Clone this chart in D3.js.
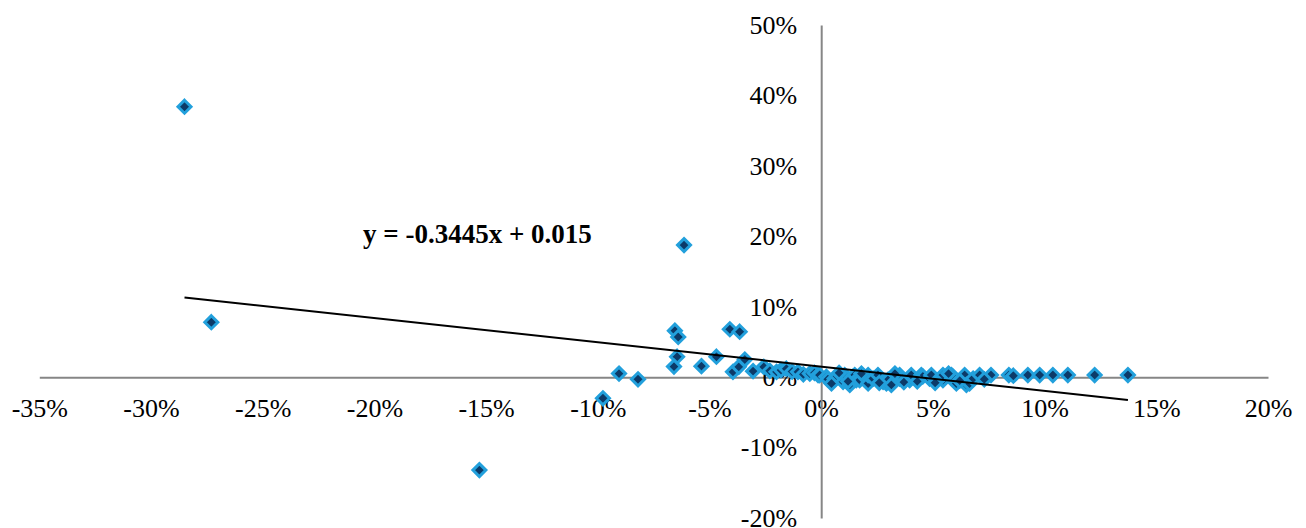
<!DOCTYPE html>
<html>
<head>
<meta charset="utf-8">
<script src="https://cdn.jsdelivr.net/npm/d3@7"></script>
<style>
  body { margin: 0; background: #fff; }
  svg { display: block; }
  .axis text { font-family: "Times New Roman", "Liberation Serif", serif; font-size: 26px; fill: #000; }
  .axis path { stroke: #868686; stroke-width: 2; }
</style>
</head>
<body>
<svg id="chart"></svg>
<script>
// returns (x) vs following returns (y)
var xValues = [
  -0.285, -0.273, -0.153, -0.0977, -0.0905, -0.082,
  -0.0614, -0.0655, -0.064, -0.0645, -0.0659, -0.0536, -0.0469,
  -0.0409, -0.0365, -0.0395, -0.0369, -0.0342, -0.0305, -0.0257,
  -0.023, -0.020, -0.018, -0.0156, -0.013, -0.0104, -0.008, -0.0051, -0.003, -0.0014,
  -0.0007, 0.0023, 0.003, 0.006, 0.0046, 0.0098, 0.0105, 0.0128, 0.0142, 0.015, 0.0157,
  0.0172, 0.021, 0.021, 0.0232, 0.0254, 0.0277, 0.0292, 0.0299, 0.0314,
  0.0351, 0.0351, 0.0396, 0.0403, 0.0448, 0.0455, 0.0485, 0.0493,
  0.0545, 0.0545, 0.0583, 0.059, 0.0605, 0.0642, 0.065, 0.0664, 0.068, 0.0709,
  0.076, 0.084, 0.0925, 0.0978, 0.1037, 0.1104, 0.1224, 0.1373,
  0.008, 0.012, 0.018, 0.026, 0.033, 0.037, 0.043, 0.051, 0.057, 0.062, 0.073, 0.086
];
var yValues = [
  0.384, 0.078, -0.132, -0.030, 0.005, -0.003,
  0.1875, 0.066, 0.057, 0.029, 0.015, 0.0156, 0.029,
  0.068, 0.0645, 0.0075, 0.0146, 0.025, 0.0085, 0.0146,
  0.009, 0.0075, 0.010, 0.012, 0.008, 0.0075, 0.004, 0.005, 0.006, 0.003,
  0.003, 0.0004, -0.003, -0.002, -0.009, -0.0066, 0.003, -0.011, 0.0004, 0.003, -0.0043,
  -0.0043, -0.009, 0.003, -0.002, 0.003, -0.0066, -0.009, -0.004, -0.011,
  -0.002, 0.003, -0.0043, 0.003, 0.003, 0.001, -0.002, 0.003,
  -0.0043, 0.003, 0.003, 0.0004, -0.009, 0.003, -0.011, -0.009, -0.002, 0.003,
  0.003, 0.003, 0.003, 0.003, 0.003, 0.003, 0.003, 0.003,
  0.006, -0.006, 0.005, -0.008, 0.005, -0.007, -0.006, -0.008, 0.005, -0.005, -0.003, 0.002
];
var xTicks = [-0.35, -0.30, -0.25, -0.20, -0.15, -0.10, -0.05, 0, 0.05, 0.10, 0.15, 0.20];
var yTicks = [-0.20, -0.10, 0, 0.10, 0.20, 0.30, 0.40, 0.50];
var slope = -0.3445;
var intercept = 0.015;
var equationLabel = "y = -0.3445x + 0.015";

var width = 1306, height = 528;
var svg = d3.select('#chart').attr('width', width).attr('height', height);

var x = d3.scaleLinear().domain([-0.35, 0.20]).range([39.3, 1268]);
var y = d3.scaleLinear().domain([-0.20, 0.50]).range([518, 25]);
// plain hyphen for negatives, like the original
var pct = function (d) { return Math.round(d * 100) + '%'; };

svg.append('g')
  .attr('class', 'axis')
  .attr('transform', 'translate(0,' + y(0) + ')')
  .call(d3.axisBottom(x).tickValues(xTicks).tickFormat(pct).tickSize(0).tickPadding(21));

svg.append('g')
  .attr('class', 'axis')
  .attr('transform', 'translate(' + x(0) + ',0)')
  .call(d3.axisLeft(y).tickValues(yTicks).tickFormat(pct).tickSize(0).tickPadding(24));

var points = xValues.map(function (d, i) { return { x: d, y: yValues[i] }; });

var r = 6.5;
svg.append('g').selectAll('path')
  .data(points)
  .enter().append('path')
  .attr('transform', function (d) { return 'translate(' + x(d.x) + ',' + y(d.y) + ')'; })
  .attr('d', 'M0,' + (-r) + 'L' + r + ',0L0,' + r + 'L' + (-r) + ',0Z')
  .style('fill', '#0c3a68')
  .style('stroke', '#22a0dc')
  .style('stroke-width', 3);

// linear trendline across the data range
var xExtent = d3.extent(xValues);
svg.append('line')
  .attr('x1', x(xExtent[0]))
  .attr('y1', y(slope * xExtent[0] + intercept))
  .attr('x2', x(xExtent[1]))
  .attr('y2', y(slope * xExtent[1] + intercept))
  .style('stroke', '#000')
  .style('stroke-width', 2);

svg.append('text')
  .attr('x', 363)
  .attr('y', 243)
  .style('font-family', '"Times New Roman", "Liberation Serif", serif')
  .style('font-weight', 'bold')
  .style('font-size', '27px')
  .text(equationLabel);
</script>
</body>
</html>
